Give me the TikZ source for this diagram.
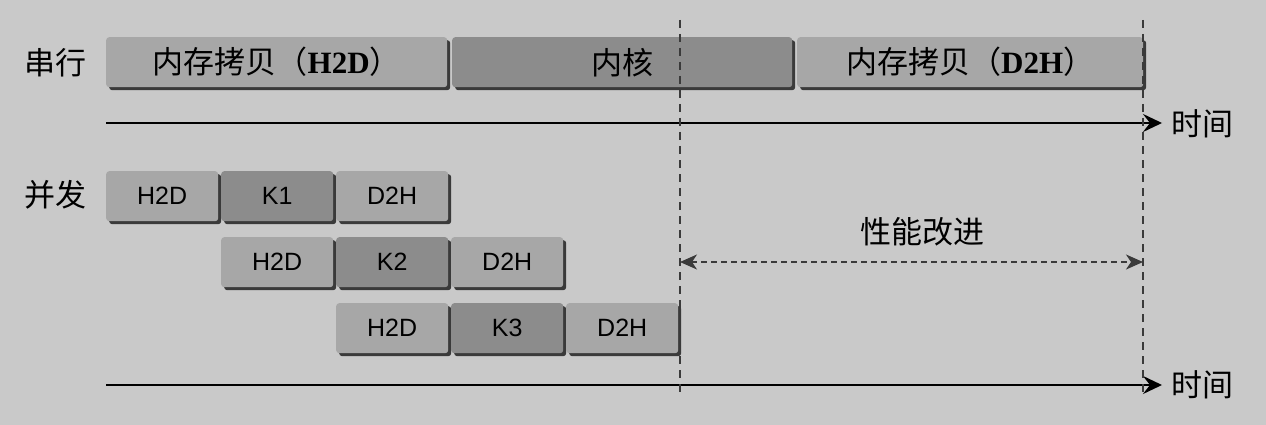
\documentclass[tikz,border=0pt]{standalone}
\usepackage{fontspec}
\setmainfont{Liberation Serif}
\setsansfont{Liberation Sans}
\newfontfamily\cjk{Noto Sans CJK SC}
\usetikzlibrary{shadows,arrows.meta}
\definecolor{bgcol}{HTML}{C9C9C9}
\definecolor{lightcol}{HTML}{A7A7A7}
\definecolor{darkcol}{HTML}{8C8C8C}
\definecolor{shadecol}{HTML}{3A3A3A}
\begin{document}
\begin{tikzpicture}[x=1pt,y=-1pt,
    seg/.style={anchor=north west,rounded corners=3pt,inner sep=0pt,
      minimum height=50pt,
      drop shadow={shadow xshift=3pt,shadow yshift=-3pt,fill=shadecol,opacity=1}},
    longseg/.style={seg,font=\fontsize{31}{33}\selectfont},
    shortseg/.style={seg,minimum width=112pt,font=\sffamily\fontsize{25}{27}\selectfont},
    light/.style={fill=lightcol},
    dark/.style={fill=darkcol},
    lbl/.style={font=\cjk\fontsize{31}{33}\selectfont},
    timeline/.style={line width=2.4pt,-{Stealth[length=19pt,width=18pt,inset=7pt]}},
    guide/.style={shadecol,line width=1.6pt,dash pattern=on 8pt off 6pt}]
  \fill[bgcol] (0,0) rectangle (1266,425);
  % serial
  \node[lbl] (serial) at (55,63) {串行};
  \node[longseg,light,minimum width=341pt] (h2d) at (106,37) {{\cjk 内存拷贝（}\textbf{H2D}{\cjk ）}};
  \node[longseg,dark,minimum width=340pt] (kern) at (452,37) {{\cjk 内核}};
  \node[longseg,light,minimum width=346pt] (d2h) at (797,37) {{\cjk 内存拷贝（}\textbf{D2H}{\cjk ）}};
  % concurrent
  \node[lbl] (conc) at (55,195) {并发};
  \draw
    (106,171) node[shortseg,light] (h1){H2D}
    (221,171) node[shortseg,dark] (k1){K1}
    (336,171) node[shortseg,light] (d1){D2H}
    (221,237) node[shortseg,light] (h2){H2D}
    (336,237) node[shortseg,dark] (k2){K2}
    (451,237) node[shortseg,light] (d2){D2H}
    (336,303) node[shortseg,light] (h3){H2D}
    (451,303) node[shortseg,dark] (k3){K3}
    (566,303) node[shortseg,light] (d3){D2H};
  % time axes
  \coordinate (s0) at (106,123);
  \coordinate (c0) at (106,385);
  \node[lbl,anchor=west] (time1) at (1168,124) {时间};
  \node[lbl,anchor=west] (time2) at (1168,385) {时间};
  \draw[timeline] (s0) -- (1162,123);
  \draw[timeline] (c0) -- (1162,385);
  % gain
  \coordinate (gtop) at (680,20);
  \coordinate (gbot) at (680,395);
  \coordinate (etop) at (1143,20);
  \coordinate (ebot) at (1143,395);
  \draw[guide] (gtop) -- (gbot);
  \draw[guide] (etop) -- (ebot);
  \coordinate (ga) at (680,262);
  \coordinate (gb) at (1143,262);
  \draw[guide,line width=1.8pt,dash pattern=on 6pt off 4pt,
    {Stealth[length=17pt,width=15pt,inset=5pt]}-{Stealth[length=17pt,width=15pt,inset=5pt]}] (ga) -- (gb);
  \node[lbl] (gain) at (922,232) {性能改进};
\end{tikzpicture}
\end{document}
